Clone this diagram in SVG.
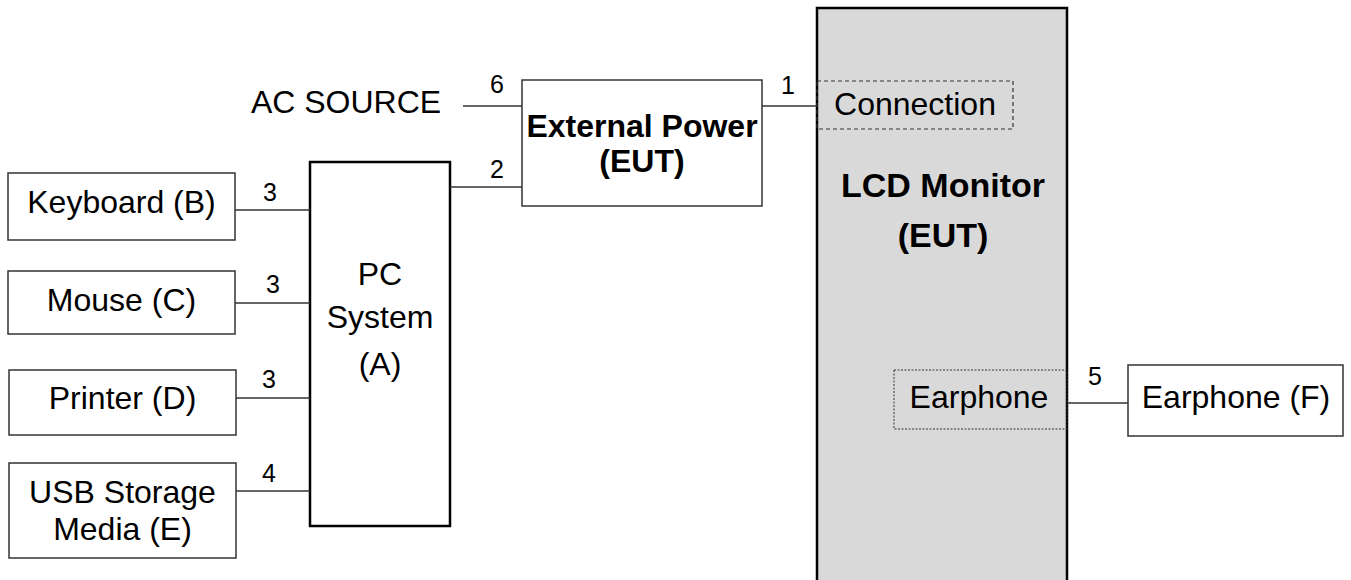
<svg xmlns="http://www.w3.org/2000/svg" width="1351" height="580" viewBox="0 0 1351 580">
<style>
.box{fill:#fff;stroke:#333;stroke-width:1.5}
.thick{fill:#fff;stroke:#000;stroke-width:2.5}
.lcd{fill:#d9d9d9;stroke:#000;stroke-width:2.5}
.dash{fill:none;stroke:#333;stroke-width:1.2;stroke-dasharray:4 3}
.dot{fill:none;stroke:#333;stroke-width:1;stroke-dasharray:2 1.5}
.t{font-family:"Liberation Sans",Arial,sans-serif;font-size:32px;fill:#000;text-anchor:middle}
.b{font-family:"Liberation Sans",Arial,sans-serif;font-size:32px;font-weight:bold;fill:#000;text-anchor:middle}
.n{font-family:"Liberation Sans",Arial,sans-serif;font-size:25px;fill:#000;text-anchor:middle}
.c{stroke:#333;stroke-width:1.5;fill:none}
</style>
<g id="lcd-monitor">
<rect class="lcd" x="817" y="8" width="250" height="580"/>
<text class="b" x="943" y="197" style="font-size:34px">LCD Monitor</text>
<text class="b" x="943" y="247" style="font-size:34px">(EUT)</text>
</g>
<g id="connection-port">
<rect class="dash" x="817" y="81" width="196" height="48"/>
<text class="t" x="915" y="115">Connection</text>
</g>
<g id="earphone-port">
<rect class="dot" x="894" y="370" width="173" height="59"/>
<text class="t" x="979" y="408">Earphone</text>
</g>
<g id="external-power">
<rect class="box" x="522" y="80" width="240" height="126"/>
<text class="b" x="642" y="137">External Power</text>
<text class="b" x="642" y="172">(EUT)</text>
</g>
<g id="ac-source">
<text class="t" x="346" y="113">AC SOURCE</text>
</g>
<g id="pc-system">
<rect class="thick" x="310" y="162" width="140" height="364"/>
<text class="t" x="380" y="285">PC</text>
<text class="t" x="380" y="328">System</text>
<text class="t" x="380" y="375">(A)</text>
</g>
<g id="keyboard">
<rect class="box" x="8" y="173" width="227" height="67"/>
<text class="t" x="121.5" y="213">Keyboard (B)</text>
</g>
<g id="mouse">
<rect class="box" x="8" y="271" width="227" height="63"/>
<text class="t" x="121.5" y="311">Mouse (C)</text>
</g>
<g id="printer">
<rect class="box" x="9" y="370" width="227" height="65"/>
<text class="t" x="122.5" y="409">Printer (D)</text>
</g>
<g id="usb-storage">
<rect class="box" x="9" y="463" width="227" height="95"/>
<text class="t" x="122.5" y="503">USB Storage</text>
<text class="t" x="122.5" y="540">Media (E)</text>
</g>
<g id="earphone-f">
<rect class="box" x="1128" y="365" width="215" height="71"/>
<text class="t" x="1236" y="408">Earphone (F)</text>
</g>
<g id="connectors">
<line class="c" x1="463" y1="106" x2="522" y2="106"/>
<text class="n" x="497" y="93">6</text>
<line class="c" x1="762" y1="106" x2="817" y2="106"/>
<text class="n" x="788" y="94">1</text>
<line class="c" x1="450" y1="187" x2="522" y2="187"/>
<text class="n" x="497" y="178">2</text>
<line class="c" x1="235" y1="210" x2="310" y2="210"/>
<text class="n" x="270" y="201">3</text>
<line class="c" x1="235" y1="303" x2="310" y2="303"/>
<text class="n" x="273" y="293">3</text>
<line class="c" x1="236" y1="398" x2="310" y2="398"/>
<text class="n" x="269" y="388">3</text>
<line class="c" x1="236" y1="491" x2="310" y2="491"/>
<text class="n" x="269" y="482">4</text>
<line class="c" x1="1067" y1="403" x2="1128" y2="403"/>
<text class="n" x="1095" y="385">5</text>
</g>
</svg>
